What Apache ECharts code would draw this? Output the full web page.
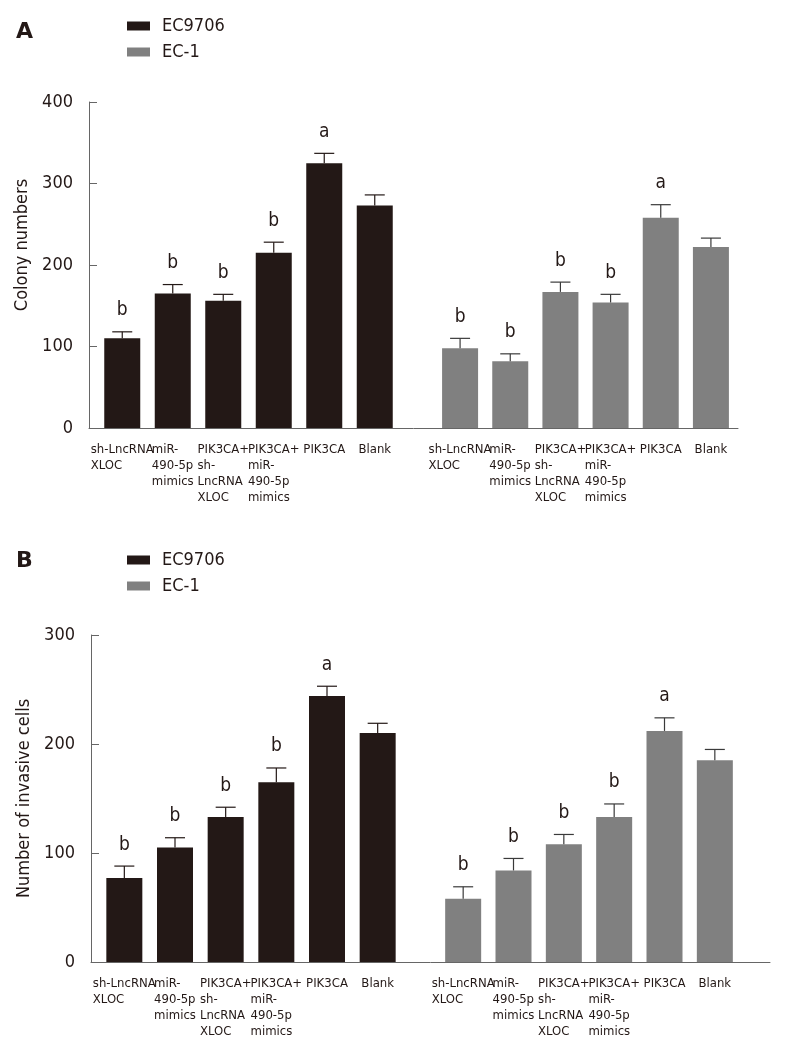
<!DOCTYPE html>
<html>
<head>
<meta charset="utf-8">
<title>Colony and invasion</title>
<script src="https://cdn.jsdelivr.net/npm/echarts@6/dist/echarts.min.js"></script>
<style>
  html, body { margin: 0; padding: 0; background: #fff; }
  #chart { width: 787px; height: 1052px; }
</style>
</head>
<body>
<div id="chart"></div>
<script>
// 分组标签
var groups = ['sh-LncRNA\nXLOC', 'miR-\n490-5p\nmimics', 'PIK3CA+\nsh-\nLncRNA\nXLOC', 'PIK3CA+\nmiR-\n490-5p\nmimics', 'PIK3CA', 'Blank']
var cellLines = ['EC9706', 'EC-1']

// A: colony numbers
var colonyEC9706 = [110, 165, 156, 215, 325, 273]
var colonyEC9706Err = [8, 11, 8, 13, 12, 13]
var colonyEC1 = [98, 82, 167, 154, 258, 222]
var colonyEC1Err = [12, 9, 12, 10, 16, 11]
var colonyTicks = [0, 100, 200, 300, 400]

// B: invasive cells
var invasEC9706 = [77, 105, 133, 165, 244, 210]
var invasEC9706Err = [11, 9, 9, 13, 9, 9]
var invasEC1 = [58, 84, 108, 133, 212, 185]
var invasEC1Err = [11, 11, 9, 12, 12, 10]
var invasTicks = [0, 100, 200, 300]

// 显著性字母
var lettersEC9706 = ['b', 'b', 'b', 'b', 'a', '']
var lettersEC1 = ['b', 'b', 'b', 'b', 'a', '']

var FONT = 'DejaVu Sans Condensed'
var INK = '#231816'
var GREY = '#808080'
var AXIS = '#666'

function pack(vals, errs) {
  return vals.map(function (v, i) { return [i, v, errs[i]] })
}

// 误差线 + 字母
function errRender(color, letters) {
  return function (params, api) {
    var i = api.value(0)
    var top = api.coord([i, api.value(1)])
    var cap = api.coord([i, api.value(1) + api.value(2)])
    var half = 10
    var st = { stroke: color, lineWidth: 1.2 }
    return {
      type: 'group',
      children: [
        { type: 'line', shape: { x1: top[0], y1: top[1], x2: cap[0], y2: cap[1] }, style: st },
        { type: 'line', shape: { x1: cap[0] - half, y1: cap[1], x2: cap[0] + half, y2: cap[1] }, style: st },
        {
          type: 'text',
          style: {
            text: letters[params.dataIndex], x: cap[0], y: cap[1] - 12,
            align: 'center', verticalAlign: 'bottom',
            fontSize: 19, fontFamily: FONT, fill: INK
          }
        }
      ]
    }
  }
}

// 左对齐的多行标签
function labelFmt(v) {
  return v.split('\n').map(function (s) { return '{l|' + s + '}' }).join('\n')
}

function catAxis(grid) {
  return {
    type: 'category', gridIndex: grid, data: groups,
    axisLine: { show: false }, axisTick: { show: false },
    axisLabel: {
      interval: 0, margin: 14, align: 'center', formatter: labelFmt,
      rich: { l: { align: 'left', fontSize: 13, lineHeight: 16, fontFamily: FONT, color: INK } }
    }
  }
}

function lineAxis(grid) {
  return {
    type: 'value', gridIndex: grid, min: 0, max: 1,
    axisLine: { show: true, lineStyle: { color: AXIS, width: 1 } },
    axisTick: { show: false }, axisLabel: { show: false }, splitLine: { show: false }
  }
}

function valAxis(grid, ticks, name, pad) {
  return {
    type: 'value', gridIndex: grid, min: ticks[0], max: ticks[ticks.length - 1], interval: ticks[1] - ticks[0],
    name: name, nameLocation: 'middle', nameGap: 57,
    nameTextStyle: { fontSize: 18, fontFamily: FONT, color: INK, padding: pad },
    axisLine: { show: true, lineStyle: { color: AXIS, width: 1 } },
    axisTick: { show: true, inside: true, length: 8, lineStyle: { color: AXIS } },
    axisLabel: { fontSize: 18, fontFamily: FONT, color: INK, margin: 16 },
    splitLine: { show: false }
  }
}

function hiddenVal(grid, ticks) {
  return { type: 'value', gridIndex: grid, min: ticks[0], max: ticks[ticks.length - 1], show: false }
}

function bar(name, color, axis, data) {
  return {
    name: name, type: 'bar', xAxisIndex: axis, yAxisIndex: axis,
    data: data, barWidth: 36, itemStyle: { color: color }
  }
}

function errs(axis, vals, e, color, letters) {
  return {
    type: 'custom', xAxisIndex: axis, yAxisIndex: axis, z: 3,
    data: pack(vals, e), renderItem: errRender(color, letters),
    encode: { x: 0, y: [1, 2] }
  }
}

function legend(top) {
  return {
    data: cellLines, orient: 'vertical', left: 122, top: top,
    icon: 'rect', itemWidth: 23, itemHeight: 9, itemGap: 8,
    textStyle: { fontSize: 18, fontFamily: FONT, color: INK, lineHeight: 18, padding: [0, 0, 0, 7] }
  }
}

let myChart = echarts.init(document.getElementById('chart'))
let option = {
  animation: false,
  title: [
    { text: 'A', left: 11, top: 16, textStyle: { fontSize: 22, fontWeight: 'bold', fontFamily: 'DejaVu Sans', color: INK } },
    { text: 'B', left: 11, top: 545, textStyle: { fontSize: 22, fontWeight: 'bold', fontFamily: 'DejaVu Sans', color: INK } }
  ],
  legend: [legend(12), legend(546)],
  grid: [
    { left: 89, right: 49, top: 102, bottom: 624 },
    { left: 97, width: 303, top: 102, bottom: 624 },
    { left: 435, width: 301, top: 102, bottom: 624 },
    { left: 91, right: 17, top: 635, bottom: 90 },
    { left: 99, width: 304, top: 635, bottom: 90 },
    { left: 438, width: 302, top: 635, bottom: 90 }
  ],
  xAxis: [lineAxis(0), catAxis(1), catAxis(2), lineAxis(3), catAxis(4), catAxis(5)],
  yAxis: [
    valAxis(0, colonyTicks, 'Colony numbers', [0, 0, 0, 40]),
    hiddenVal(1, colonyTicks), hiddenVal(2, colonyTicks),
    valAxis(3, invasTicks, 'Number of invasive cells', [0, 0, 0, 0]),
    hiddenVal(4, invasTicks), hiddenVal(5, invasTicks)
  ],
  series: [
    bar('EC9706', INK, 1, colonyEC9706),
    bar('EC-1', GREY, 2, colonyEC1),
    bar('EC9706', INK, 4, invasEC9706),
    bar('EC-1', GREY, 5, invasEC1),
    errs(1, colonyEC9706, colonyEC9706Err, INK, lettersEC9706),
    errs(2, colonyEC1, colonyEC1Err, '#3a3a3a', lettersEC1),
    errs(4, invasEC9706, invasEC9706Err, INK, lettersEC9706),
    errs(5, invasEC1, invasEC1Err, '#3a3a3a', lettersEC1)
  ]
}
myChart.setOption(option)
window.addEventListener('resize', function () {
  myChart.resize()
})
</script>
</body>
</html>
